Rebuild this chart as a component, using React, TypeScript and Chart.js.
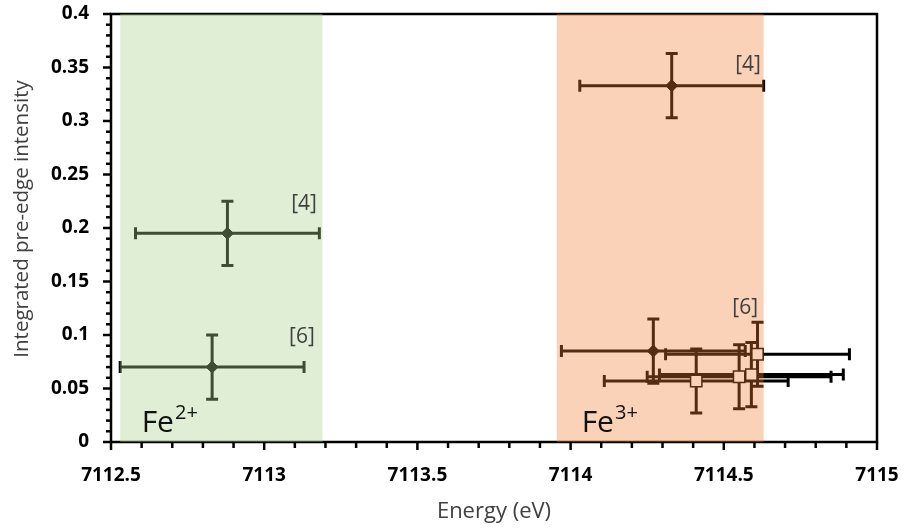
import { useEffect, useRef } from 'react';
import { Chart, registerables } from 'chart.js';

Chart.register(...registerables);

// Axis ranges and tick steps
const X_MIN = 7112.5;
const X_MAX = 7115;
const X_STEP = 0.5;
const X_MINOR = 0.1;
const Y_MIN = 0;
const Y_MAX = 0.4;
const Y_STEP = 0.05;
const Y_MINOR = 0.01;

// Filled diamonds
const diamondX = [7112.88, 7112.83, 7114.33, 7114.27];
const diamondY = [0.195, 0.07, 0.333, 0.085];
// Open squares
const squareX = [7114.61, 7114.41, 7114.55, 7114.59];
const squareY = [0.082, 0.057, 0.061, 0.063];
// Error bar half-widths
const X_ERR = 0.3;
const Y_ERR = 0.03;

// Shaded oxidation-state regions
const regionStart = [7112.53, 7113.955];
const regionEnd = [7113.19, 7114.63];
const regionColors = ['rgba(169,209,142,0.37)', 'rgba(237,125,49,0.35)'];
const regionBase = ['Fe', 'Fe'];
const regionSup = ['2+', '3+'];
const regionLabelX = [7112.6, 7114.036];
const regionLabelY = [0.0093, 0.0093];

// Reference labels
const refLabels = ['[4]', '[6]', '[4]', '[6]'];
const refLabelX = [7113.13, 7113.123, 7114.579, 7114.57];
const refLabelY = [0.2224, 0.098, 0.352, 0.125];

const X_TITLE = 'Energy (eV)';
const Y_TITLE = 'Integrated pre-edge intensity';

const fmt = (v: number) => String(Number(v.toFixed(3)));

export default function App() {
  const ref = useRef<HTMLCanvasElement | null>(null);

  useEffect(() => {
    document.body.style.margin = '0';
    const canvas = ref.current;
    if (!canvas) return;

    const errorAndFrame = {
      id: 'errorAndFrame',
      beforeDatasetsDraw(chart: any) {
        const { ctx, chartArea: a } = chart;
        const xs = chart.scales.x;
        const ys = chart.scales.y;
        ctx.save();
        // frame
        ctx.strokeStyle = '#000';
        ctx.lineWidth = 2.5;
        ctx.beginPath();
        ctx.rect(a.left, a.top, a.right - a.left, a.bottom - a.top);
        ctx.stroke();
        // y ticks
        ctx.lineWidth = 2.5;
        const ny = Math.round((Y_MAX - Y_MIN) / Y_MINOR);
        for (let i = 0; i <= ny; i++) {
          const v = Y_MIN + i * Y_MINOR;
          const py = ys.getPixelForValue(v);
          const major = i % Math.round(Y_STEP / Y_MINOR) === 0;
          ctx.beginPath();
          ctx.moveTo(a.left, py);
          ctx.lineTo(a.left - (major ? 8 : 5), py);
          ctx.stroke();
        }
        const nx = Math.round((X_MAX - X_MIN) / X_MINOR);
        for (let i = 0; i <= nx; i++) {
          const v = X_MIN + i * X_MINOR;
          const px = xs.getPixelForValue(v);
          const major = i % Math.round(X_STEP / X_MINOR) === 0;
          ctx.beginPath();
          ctx.moveTo(px, a.bottom);
          ctx.lineTo(px, a.bottom + (major ? 8 : 6));
          ctx.stroke();
        }
        // error bars
        ctx.lineWidth = 3;
        const cap = 6;
        const drawErr = (xv: number[], yv: number[]) => {
          xv.forEach((x, i) => {
            const y = yv[i];
            const px = xs.getPixelForValue(x);
            const py = ys.getPixelForValue(y);
            const l = xs.getPixelForValue(x - X_ERR);
            const r = xs.getPixelForValue(x + X_ERR);
            const t = ys.getPixelForValue(y + Y_ERR);
            const b = ys.getPixelForValue(y - Y_ERR);
            ctx.beginPath();
            ctx.moveTo(l, py); ctx.lineTo(r, py);
            ctx.moveTo(l, py - cap); ctx.lineTo(l, py + cap);
            ctx.moveTo(r, py - cap); ctx.lineTo(r, py + cap);
            ctx.moveTo(px, t); ctx.lineTo(px, b);
            ctx.moveTo(px - cap, t); ctx.lineTo(px + cap, t);
            ctx.moveTo(px - cap, b); ctx.lineTo(px + cap, b);
            ctx.stroke();
          });
        };
        drawErr(diamondX, diamondY);
        drawErr(squareX, squareY);
        ctx.restore();
      },
      afterDatasetsDraw(chart: any) {
        const { ctx, chartArea: a } = chart;
        const xs = chart.scales.x;
        const ys = chart.scales.y;
        ctx.save();
        regionStart.forEach((s, i) => {
          const l = xs.getPixelForValue(s);
          const r = xs.getPixelForValue(regionEnd[i]);
          ctx.fillStyle = regionColors[i];
          ctx.fillRect(l, a.top, r - l, a.bottom - a.top);
        });
        // region labels
        ctx.fillStyle = '#111';
        ctx.textBaseline = 'alphabetic';
        ctx.textAlign = 'left';
        regionBase.forEach((t, i) => {
          const px = xs.getPixelForValue(regionLabelX[i]);
          const py = ys.getPixelForValue(regionLabelY[i]);
          ctx.font = '30px "Open Sans"';
          ctx.fillText(t, px, py);
          const w = ctx.measureText(t).width;
          ctx.font = '20px "Open Sans"';
          ctx.fillText(regionSup[i], px + w + 1, py - 13);
        });
        // reference labels
        ctx.fillStyle = '#404040';
        ctx.font = '21px "Open Sans"';
        ctx.textAlign = 'center';
        ctx.textBaseline = 'middle';
        refLabels.forEach((t, i) => {
          ctx.fillText(t, xs.getPixelForValue(refLabelX[i]), ys.getPixelForValue(refLabelY[i]));
        });
        // axis titles
        ctx.fillStyle = '#404040';
        ctx.font = '22px "Open Sans"';
        ctx.textAlign = 'center';
        ctx.textBaseline = 'middle';
        ctx.fillText(X_TITLE, (a.left + a.right) / 2, 512);
        ctx.font = '20.5px "Open Sans"';
        ctx.translate(22, 219);
        ctx.rotate(-Math.PI / 2);
        ctx.fillText(Y_TITLE, 0, 0);
        ctx.restore();
      },
    };

    const chart = new Chart(canvas, {
      type: 'scatter',
      data: {
        datasets: [
          {
            data: diamondX.map((x, i) => ({ x, y: diamondY[i] })),
            pointStyle: 'rectRot',
            pointRadius: 6,
            backgroundColor: '#000',
            borderColor: '#000',
            borderWidth: 1,
          },
          {
            data: squareX.map((x, i) => ({ x, y: squareY[i] })),
            pointStyle: 'rect',
            pointRadius: 8,
            backgroundColor: '#fff',
            borderColor: '#000',
            borderWidth: 1.5,
          },
        ],
      },
      options: {
        responsive: false,
        animation: false,
        events: [],
        layout: { padding: { left: 0, right: 29, top: 14, bottom: 0 } },
        plugins: { legend: { display: false }, tooltip: { enabled: false } },
        scales: {
          x: {
            type: 'linear',
            min: X_MIN,
            max: X_MAX,
            border: { display: false },
            grid: { display: false, drawTicks: false },
            ticks: {
              stepSize: X_STEP,
              padding: 22,
              color: '#000',
              maxRotation: 0,
              font: { family: '"Open Sans"', size: 19, weight: 'bold' },
              callback: (v: any) => fmt(Number(v)),
            },
            afterFit: (s: any) => {
              s.height = 86;
              s.paddingLeft = 0;
              s.paddingRight = 0;
            },
          },
          y: {
            type: 'linear',
            min: Y_MIN,
            max: Y_MAX,
            border: { display: false },
            grid: { display: false, drawTicks: false },
            ticks: {
              stepSize: Y_STEP,
              padding: 22,
              color: '#000',
              font: { family: '"Open Sans"', size: 19, weight: 'bold' },
              callback: (v: any) => fmt(Number(v)),
            },
            afterFit: (s: any) => {
              s.width = 111;
              s.paddingTop = 0;
              s.paddingBottom = 0;
            },
          },
        },
      },
      plugins: [errorAndFrame],
    });
    return () => chart.destroy();
  }, []);

  return (
    <div style={{ width: 906, height: 528 }}>
      <canvas ref={ref} width={906} height={528} />
    </div>
  );
}
